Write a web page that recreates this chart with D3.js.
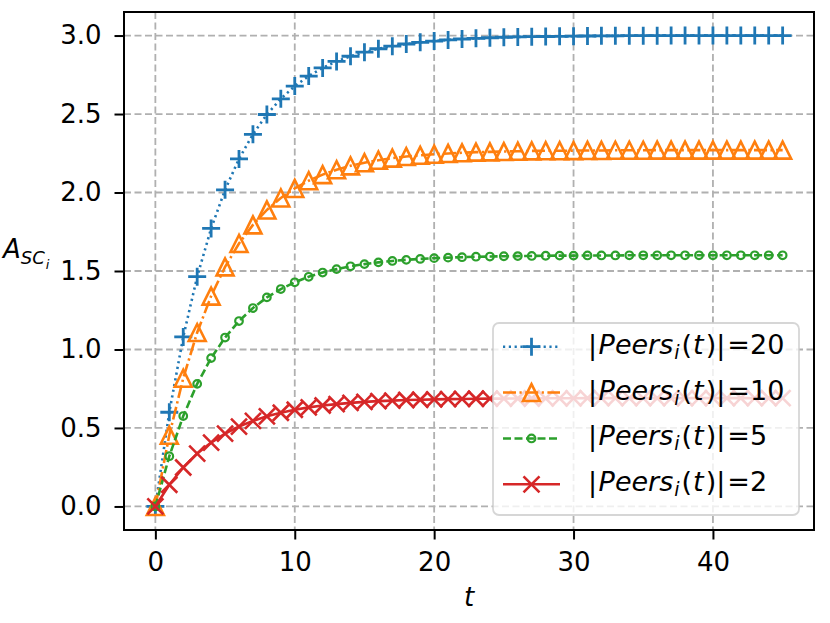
<!DOCTYPE html>
<html>
<head>
<meta charset="utf-8">
<script src="https://cdn.jsdelivr.net/npm/d3@7"></script>
<style>
  body { margin: 0; background: #fff; }
  svg text { font-family: "DejaVu Sans", sans-serif; }
</style>
</head>
<body>
<div id="viz"></div>
<script>
// Data
const tValues = [0, 1, 2, 3, 4, 5, 6, 7, 8, 9, 10, 11, 12, 13, 14, 15, 16, 17, 18, 19, 20, 21, 22,
  23, 24, 25, 26, 27, 28, 29, 30, 31, 32, 33, 34, 35, 36, 37, 38, 39, 40, 41, 42, 43, 44, 45];

const peers20 = [0, 0.6, 1.08, 1.464, 1.771, 2.017, 2.214, 2.371, 2.497, 2.597, 2.678, 2.742, 2.794,
  2.835, 2.868, 2.894, 2.916, 2.932, 2.946, 2.957, 2.965, 2.972, 2.978, 2.982, 2.986, 2.989, 2.991,
  2.993, 2.994, 2.995, 2.996, 2.997, 2.998, 2.998, 2.999, 2.999, 2.999, 3.0, 3.0, 3.0, 3.0, 3.0,
  3.0, 3.0, 3.0, 3.0];

const peers10 = [0, 0.454, 0.817, 1.108, 1.340, 1.526, 1.675, 1.794, 1.889, 1.965, 2.026, 2.075,
  2.114, 2.145, 2.170, 2.190, 2.206, 2.219, 2.229, 2.237, 2.244, 2.249, 2.253, 2.257, 2.259, 2.261,
  2.263, 2.265, 2.266, 2.266, 2.267, 2.268, 2.268, 2.269, 2.269, 2.269, 2.27, 2.27, 2.27, 2.27,
  2.27, 2.27, 2.27, 2.27, 2.27, 2.27];

const peers5 = [0, 0.32, 0.576, 0.781, 0.945, 1.076, 1.181, 1.264, 1.332, 1.385, 1.428, 1.463,
  1.490, 1.512, 1.530, 1.544, 1.555, 1.564, 1.571, 1.577, 1.582, 1.585, 1.588, 1.591, 1.592, 1.594,
  1.595, 1.596, 1.597, 1.598, 1.598, 1.599, 1.599, 1.599, 1.6, 1.6, 1.6, 1.6, 1.6, 1.6, 1.6, 1.6,
  1.6, 1.6, 1.6, 1.6];

const peers2 = [0, 0.138, 0.248, 0.337, 0.407, 0.464, 0.509, 0.545, 0.574, 0.597, 0.616, 0.631,
  0.643, 0.652, 0.660, 0.666, 0.671, 0.674, 0.678, 0.680, 0.682, 0.684, 0.685, 0.686, 0.687, 0.687,
  0.688, 0.688, 0.689, 0.689, 0.689, 0.69, 0.69, 0.69, 0.69, 0.69, 0.69, 0.69, 0.69, 0.69, 0.69,
  0.69, 0.69, 0.69, 0.69, 0.69];

const seriesLabels = ['20', '10', '5', '2'];
const xTicks = [0, 10, 20, 30, 40];
const yTicks = [0.0, 0.5, 1.0, 1.5, 2.0, 2.5, 3.0];

const width = 830;
const height = 623;
const margin = {top: 12, right: 16, bottom: 93, left: 124};
const fontSize = 26;

const series = [
  {values: peers20, label: seriesLabels[0], color: '#1f77b4', dash: '2.2,3.6', marker: 'plus'},
  {values: peers10, label: seriesLabels[1], color: '#ff7f0e', dash: '13,3.5,2.2,3.5', marker: 'tri'},
  {values: peers5, label: seriesLabels[2], color: '#2ca02c', dash: '8,3.5', marker: 'circle'},
  {values: peers2, label: seriesLabels[3], color: '#d62728', dash: null, marker: 'cross'}
];

const svg = d3.select('#viz')
  .append('svg')
  .attr('width', width)
  .attr('height', height)
  .attr('viewBox', [0, 0, width, height]);

// Scales (matplotlib style 5% margins)
const xScale = d3.scaleLinear()
  .domain([-2.25, 47.25])
  .range([margin.left, width - margin.right]);

const yScale = d3.scaleLinear()
  .domain([-0.15, 3.15])
  .range([height - margin.bottom, margin.top]);

// Grid
const grid = svg.append('g')
  .attr('stroke', '#b0b0b0')
  .attr('stroke-width', 1.8)
  .attr('stroke-dasharray', '7,3.5');

grid.selectAll('.vgrid')
  .data(xTicks)
  .join('line')
    .attr('x1', d => xScale(d))
    .attr('x2', d => xScale(d))
    .attr('y1', margin.top)
    .attr('y2', height - margin.bottom);

grid.selectAll('.hgrid')
  .data(yTicks)
  .join('line')
    .attr('y1', d => yScale(d))
    .attr('y2', d => yScale(d))
    .attr('x1', margin.left)
    .attr('x2', width - margin.right);

// Marker drawing
const drawMarker = (sel, type, color) => {
  if (type === 'plus') {
    sel.append('path')
      .attr('d', 'M-9,0H9M0,-9V9')
      .attr('stroke', color).attr('stroke-width', 2.8).attr('fill', 'none');
  } else if (type === 'cross') {
    sel.append('path')
      .attr('d', 'M-8,-8L8,8M-8,8L8,-8')
      .attr('stroke', color).attr('stroke-width', 2.6).attr('fill', 'none');
  } else if (type === 'tri') {
    sel.append('path')
      .attr('d', 'M0,-8.5L-8.5,8.5L8.5,8.5Z')
      .attr('stroke', color).attr('stroke-width', 2.6).attr('fill', 'none')
      .attr('stroke-linejoin', 'miter');
  } else {
    sel.append('circle')
      .attr('r', 3.8)
      .attr('stroke', color).attr('stroke-width', 2.2).attr('fill', 'none');
  }
};

const line = d3.line()
  .x((d, i) => xScale(tValues[i]))
  .y(d => yScale(d));

series.forEach(s => {
  svg.append('path')
    .attr('d', line(s.values))
    .attr('fill', 'none')
    .attr('stroke', s.color)
    .attr('stroke-width', 2.6)
    .attr('stroke-dasharray', s.dash);

  svg.append('g')
    .selectAll('g')
    .data(s.values)
    .join('g')
      .attr('transform', (d, i) => `translate(${xScale(tValues[i])},${yScale(d)})`)
      .each(function() { drawMarker(d3.select(this), s.marker, s.color); });
});

// Axes
const xAxis = svg.append('g')
  .attr('transform', `translate(0,${height - margin.bottom})`)
  .call(d3.axisBottom(xScale).tickValues(xTicks).tickSize(9.5).tickPadding(13).tickFormat(d3.format('d')));

const yAxis = svg.append('g')
  .attr('transform', `translate(${margin.left},0)`)
  .call(d3.axisLeft(yScale).tickValues(yTicks).tickSize(9.5).tickPadding(13).tickFormat(d3.format('.1f')));

[xAxis, yAxis].forEach(ax => {
  ax.select('.domain').remove();
  ax.selectAll('line').attr('stroke', '#000').attr('stroke-width', 2);
  ax.selectAll('text')
    .attr('fill', '#000')
    .style('font-size', fontSize + 'px')
    .style('font-family', '"DejaVu Sans", sans-serif');
});

// Spines
svg.append('rect')
  .attr('x', margin.left)
  .attr('y', margin.top)
  .attr('width', width - margin.left - margin.right)
  .attr('height', height - margin.top - margin.bottom)
  .attr('fill', 'none')
  .attr('stroke', '#000')
  .attr('stroke-width', 2);

// Axis labels
svg.append('text')
  .attr('x', xScale(22.5))
  .attr('y', 606)
  .attr('text-anchor', 'middle')
  .style('font-size', fontSize + 'px')
  .style('font-style', 'italic')
  .text('t');

const yLabel = svg.append('text')
  .attr('x', 3)
  .attr('y', 258)
  .style('font-size', fontSize + 'px')
  .style('font-style', 'italic');
yLabel.append('tspan').text('A');
yLabel.append('tspan').attr('dy', 6).style('font-size', '18px').text('SC');
yLabel.append('tspan').attr('dy', 5).attr('dx', 1).style('font-size', '13px').text('i');

// Legend
const legend = svg.append('g');
legend.append('rect')
  .attr('x', 493)
  .attr('y', 323)
  .attr('width', 306)
  .attr('height', 192)
  .attr('rx', 6)
  .attr('fill', '#fff')
  .attr('fill-opacity', 0.8)
  .attr('stroke', '#cccccc')
  .attr('stroke-opacity', 0.8)
  .attr('stroke-width', 1.8);

const rowY = d3.scaleLinear().domain([0, 3]).range([346.7, 484.3]);

series.forEach((s, i) => {
  const y = rowY(i);
  legend.append('line')
    .attr('x1', 503).attr('x2', 560)
    .attr('y1', y).attr('y2', y)
    .attr('stroke', s.color)
    .attr('stroke-width', 2.6)
    .attr('stroke-dasharray', s.dash);
  const m = legend.append('g').attr('transform', `translate(531.5,${y})`);
  drawMarker(m, s.marker, s.color);

  const t = legend.append('text')
    .attr('x', 588)
    .attr('y', y + 7)
    .style('font-size', '27px');
  t.append('tspan').text('|');
  t.append('tspan').attr('dx', 1.5).style('font-style', 'italic').text('Peers');
  t.append('tspan').style('font-style', 'italic').style('font-size', '19px').attr('dy', 5).attr('dx', 1).text('i');
  t.append('tspan').attr('dy', -5).attr('dx', 2).text('(');
  t.append('tspan').attr('dx', 1).style('font-style', 'italic').text('t');
  t.append('tspan').attr('dx', 2).text(')|');
  t.append('tspan').attr('dx', 2).text('=' + s.label);
});
</script>
</body>
</html>
